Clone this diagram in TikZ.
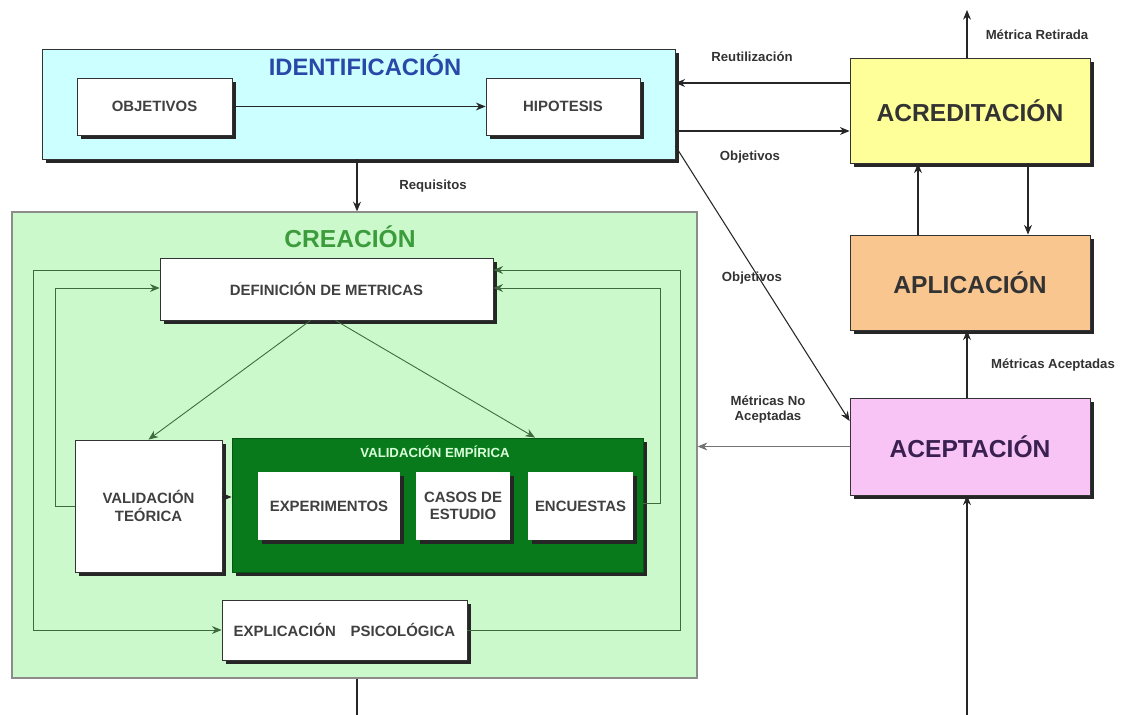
\documentclass[tikz,border=0pt]{standalone}
\usepackage{fontspec}
\setmainfont{Liberation Sans}
\usetikzlibrary{arrows.meta,shadows,calc}
\definecolor{cyanfill}{HTML}{CCFFFF}
\definecolor{greenfill}{HTML}{CCF9CC}
\definecolor{darkgreen}{HTML}{087A1C}
\definecolor{yellowfill}{HTML}{FFFF99}
\definecolor{orangefill}{HTML}{F9C690}
\definecolor{pinkfill}{HTML}{F8C4F6}
\definecolor{titleblue}{HTML}{2A48A8}
\definecolor{titlegreen}{HTML}{3C9C3C}
\definecolor{acepurple}{HTML}{3A2050}
\definecolor{lblgray}{HTML}{333333}
\definecolor{loopgreen}{HTML}{3E6A3E}
\tikzset{
  shbox/.style={draw=black!80, line width=0.5pt, drop shadow={shadow xshift=2.4pt, shadow yshift=-2.4pt, fill=black!85, opacity=1}},
  whitebox/.style={shbox, fill=white, font=\fontsize{8.5}{10}\selectfont\bfseries, text=black!75, align=center, inner sep=1pt},
  stagebox/.style={shbox, font=\fontsize{14}{16}\selectfont\bfseries, align=center},
  arr/.style={-{Stealth[length=5.5pt,width=4.5pt]}, line width=0.6pt, draw=black!85},
  looparr/.style={arr, draw=loopgreen, line width=0.5pt},
  plain/.style={line width=0.6pt, draw=black!85},
  lbl/.style={font=\fontsize{7.5}{8.5}\selectfont\bfseries, text=lblgray, align=center}
}
\begin{document}
\begin{tikzpicture}[x=0.02cm, y=-0.02cm]
\useasboundingbox[fill=white] (0,0) rectangle (1132,715);

% IDENTIFICACION
\node[shbox, fill=cyanfill, minimum width=12.66cm, minimum height=2.2cm] (ident) at (358.5,104) {};
\node[font=\fontsize{13.5}{16}\selectfont\bfseries, text=titleblue] (identt) at (365,65) {IDENTIFICACIÓN};
\node[whitebox, minimum width=3.1cm, minimum height=1.14cm] (obj) at (154.5,106.5) {OBJETIVOS};
\node[whitebox, minimum width=3.08cm, minimum height=1.14cm] (hip) at (563,106.5) {HIPOTESIS};

% CREACION
\node[draw=black!45, line width=0.8pt, fill=greenfill, minimum width=13.7cm, minimum height=9.32cm] (crea) at (354.5,445) {};
\node[font=\fontsize{14}{16}\selectfont\bfseries, text=titlegreen] (creat) at (350,237) {CREACIÓN};
\node[whitebox, minimum width=6.66cm, minimum height=1.24cm] (def) at (326.5,289) {DEFINICIÓN DE METRICAS};
\node[whitebox, minimum width=2.94cm, minimum height=2.64cm] (vt) at (148.5,506) {VALIDACIÓN\\TEÓRICA};
\node[shbox, fill=darkgreen, draw=darkgreen!70!black, minimum width=8.22cm, minimum height=2.68cm] (ve) at (437.5,505) {};
\node[font=\fontsize{7.5}{9}\selectfont\bfseries, text=green!15!white] (vet) at (435,452) {VALIDACIÓN EMPÍRICA};
\node[whitebox, draw=none, minimum width=2.84cm, minimum height=1.36cm] (exp) at (329,506) {EXPERIMENTOS};
\node[whitebox, draw=none, minimum width=1.88cm, minimum height=1.36cm] (cas) at (463,506) {CASOS DE\\ESTUDIO};
\node[whitebox, draw=none, minimum width=2.1cm, minimum height=1.36cm] (enc) at (580.5,506) {ENCUESTAS};
\node[whitebox, minimum width=4.9cm, minimum height=1.2cm] (psi) at (344.5,630) {EXPLICACIÓN\quad PSICOLÓGICA};

% Right column
\node[stagebox, fill=yellowfill, minimum width=4.8cm, minimum height=2.1cm, text=black!80] (acr) at (970,110.5) {ACREDITACIÓN};
\node[stagebox, fill=orangefill, minimum width=4.8cm, minimum height=1.9cm, text=black!80] (apl) at (970,282.5) {APLICACIÓN};
\node[stagebox, fill=pinkfill, minimum width=4.8cm, minimum height=1.94cm, text=acepurple] (ace) at (970,446.5) {ACEPTACIÓN};

% free ends
\coordinate (top) at (967,10);
\coordinate (botc) at (357,715);
\coordinate (bota) at (967,715);

% connectors in identificacion
\draw[arr] (obj.east) -- (hip.west);
\draw[arr] (ident.south -| botc) -- (crea.north -| botc);
\node[lbl] (lreq) at (433,186) {Requisitos};

% right connectors
\draw[arr] (acr.west |- 0,83) -- (ident.east |- 0,83);
\node[lbl] (lreu) at (752,57) {Reutilización};
\draw[arr] (ident.east |- 0,131) -- (acr.west |- 0,131);
\node[lbl] (lobj1) at (750,157) {Objetivos};
\draw[arr] (ident.east |- 0,146) -- (ace.west |- 0,421);
\node[lbl] (lobj2) at (752,278) {Objetivos};
\draw[arr] (acr.north -| top) -- (top);
\node[lbl] (lret) at (1037,35) {Métrica Retirada};
\draw[arr] (apl.north -| 918,0) -- (acr.south -| 918,0);
\draw[arr] (acr.south -| 1028,0) -- (apl.north -| 1028,0);
\draw[arr] (ace.north -| top) -- (apl.south -| top);
\node[lbl] (lacep) at (1053,365) {Métricas Aceptadas};
\draw[arr, draw=black!55, line width=0.5pt] (ace.west) -- (crea.east |- ace.west);
\node[lbl] (lnoacep) at (768,410) {Métricas No\\Aceptadas};
\draw[arr] (bota) -- (ace.south -| bota);
\draw[plain] (crea.south -| botc) -- (botc);

% creacion internal connectors
\draw[looparr] ($(def.south)+(-16,0)$) -- (vt.north);
\draw[looparr] ($(def.south)+(9,0)$) -- (ve.north -| 535,0);
\draw[arr] (vt.east |- 0,497) -- (ve.west |- 0,497);
\draw[looparr] (vt.west) -- (55,506) |- (def.west |- 0,288);
\draw[looparr] (def.west |- 0,270) -- (33,270) |- (psi.west);
\draw[looparr] (psi.east) -- (680,630) -- (680,270) -- (def.east |- 0,270);
\draw[looparr] (ve.east |- 0,503) -- (660,503) |- (def.east |- 0,288);
\end{tikzpicture}
\end{document}
